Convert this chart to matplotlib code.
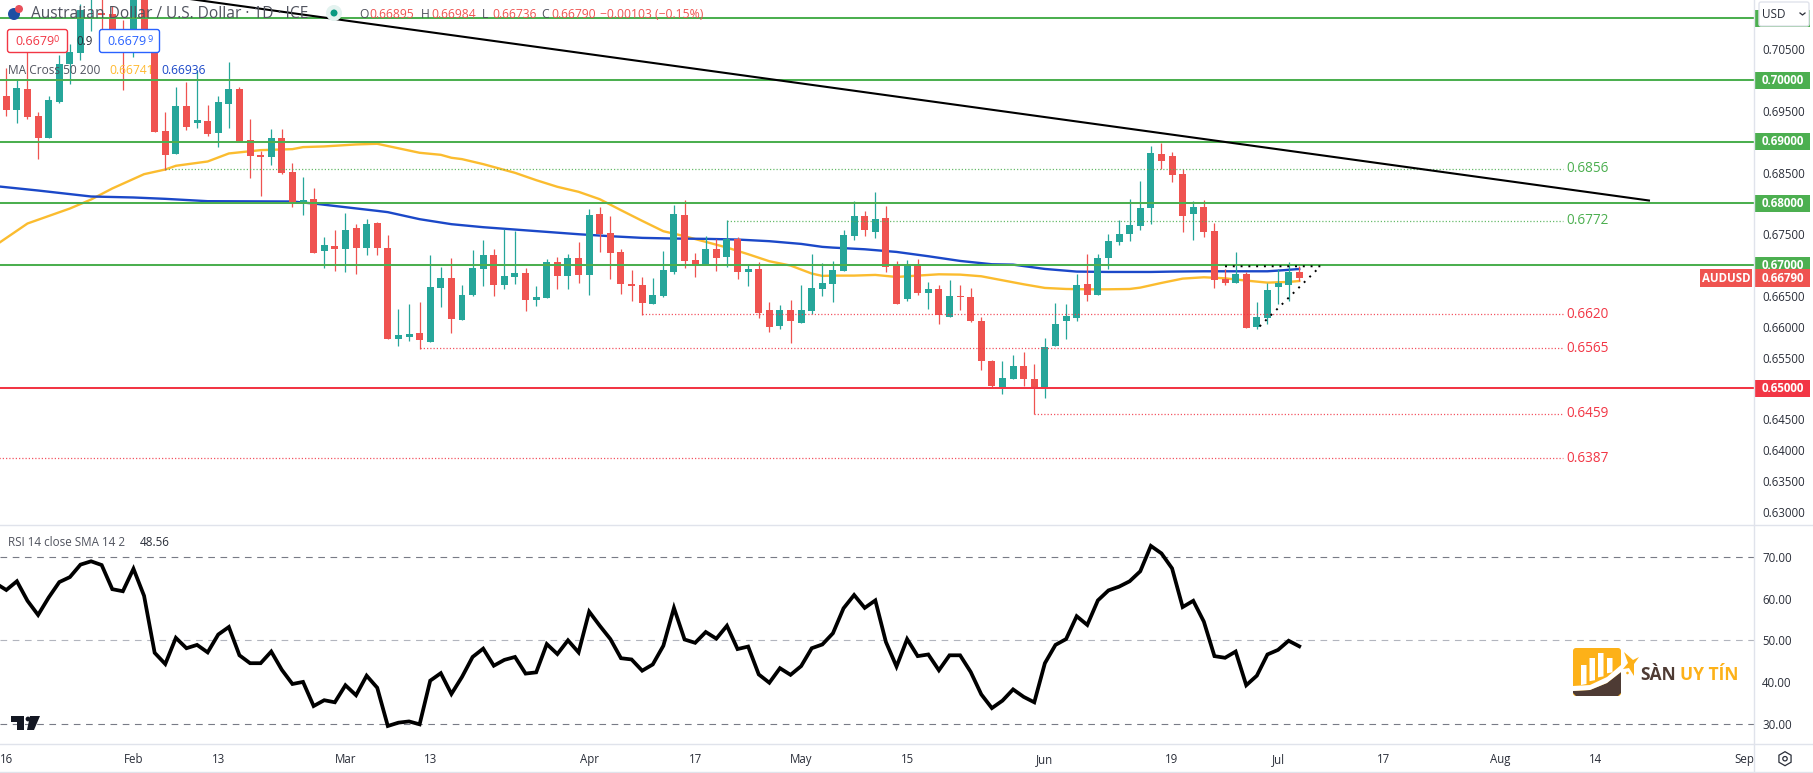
import matplotlib
matplotlib.use('Agg')
import matplotlib.pyplot as plt
import numpy as np
from matplotlib.patches import Rectangle, Polygon, FancyBboxPatch, Circle, RegularPolygon

plt.rcParams['font.family'] = ['Open Sans', 'DejaVu Sans']

W, H = 1813, 773

# daily candles, Jan 16 onwards
opens = [.69741, .69513, .69854, .69416, .69059, .69643, .70260, .70444, .71350, .71083,
         .71072, .70801, .70758, .71500, .70650, .69172, .68799, .69578, .69302, .69335,
         .69140, .69611, .69854, .69026, .68783, .68750, .69059, .68507, .67983, .68069,
         .67224, .67306, .67257, .67598, .67273, .67679, .67273, .65796, .65828, .65893,
         .65747, .66624, .66786, .66104, .66510, .66932, .67160, .66673, .66802, .66867,
         .66429, .66462, .67046, .66819, .67111, .66835, .67825, .67517, .67208, .66689,
         .66673, .66364, .66494, .66884, .67809, .67078, .66997, .67257, .67127, .67419,
         .66884, .66932, .66267, .66007, .66267, .66056, .66251, .66608, .66688, .66899,
         .67467, .67792, .67532, .67759, .67013, .66445, .66997, .66542, .66607, .66152,
         .66493, .66477, .66088, .65438, .65016, .65146, .65357, .65146, .65000, .65682,
         .66088, .66136, .66688, .66510, .67110, .67370, .67500, .67630, .67922, .68798,
         .68766, .68474, .67824, .67938, .67548, .66769, .66704, .66850, .65990, .66136,
         .66640, .66672, .66895]
highs = [.70190, .70000, .70449, .69481, .69741, .70406, .70585, .71234, .71800, .71500,
         .71200, .70974, .71600, .71700, .70731, .69481, .69881, .69968, .70163, .69595,
         .69741, .70293, .69887, .69367, .68848, .69205, .69205, .68653, .68426, .68247,
         .67452, .67565, .67841, .67663, .67744, .67695, .67484, .66283, .66364, .66397,
         .67160, .66965, .67111, .66673, .67241, .67403, .67257, .67582, .67549, .66949,
         .66656, .67095, .67127, .67176, .67371, .67906, .67939, .67793, .67257, .66916,
         .66802, .66786, .67224, .67971, .68052, .67192, .67468, .67419, .67728, .67452,
         .66997, .67046, .66397, .66348, .66429, .66673, .67176, .67030, .67061, .67565,
         .68035, .67873, .68182, .67954, .67061, .67078, .67094, .66721, .66672, .66753,
         .66672, .66623, .66152, .65454, .65438, .65536, .65584, .65389, .65812, .66380,
         .66363, .66850, .67175, .67175, .67500, .67727, .68068, .68360, .68928, .68984,
         .68831, .68555, .68035, .68052, .67678, .66932, .67208, .66883, .66396, .66704,
         .66932, .67045, .66984]
lows = [.69416, .69308, .69373, .68718, .69059, .69627, .69935, .70325, .70801, .70823,
        .70758, .69838, .70379, .70596, .69156, .68539, .68799, .69189, .69221, .69091,
        .68913, .69221, .68994, .68409, .68117, .68621, .68474, .67939, .67809, .67192,
        .66960, .66900, .66880, .66850, .67160, .67160, .65796, .65682, .65764, .65634,
        .65747, .66315, .65893, .66104, .66494, .66656, .66494, .66608, .66689, .66251,
        .66332, .66462, .66608, .66608, .66705, .66510, .67208, .66770, .66526, .66413,
        .66186, .66364, .66478, .66851, .66949, .66802, .66997, .66900, .66965, .66770,
        .66656, .66137, .65910, .65958, .65731, .66056, .66202, .66494, .66396, .66899,
        .67402, .67467, .67435, .66883, .66363, .66412, .66510, .66282, .66039, .66152,
        .66266, .66071, .65292, .65000, .64903, .65146, .65032, .64578, .64838, .65682,
        .65795, .66088, .66412, .66510, .66932, .67321, .67386, .67565, .67662, .68555,
        .68344, .67532, .67402, .67451, .66623, .66672, .66704, .65974, .65958, .66039,
        .66363, .66412, .66736]
closes = [.69513, .69870, .69400, .69059, .69676, .70260, .70455, .71137, .71600, .71061,
          .70823, .70596, .71400, .70650, .69156, .68783, .69578, .69237, .69351, .69124,
          .69643, .69854, .68994, .68767, .68750, .69059, .68491, .67983, .68052, .67192,
          .67322, .67257, .67565, .67273, .67663, .67273, .65796, .65861, .65877, .65780,
          .66640, .66786, .66121, .66510, .66949, .67160, .66673, .66819, .66867, .66429,
          .66478, .67046, .66819, .67111, .66835, .67809, .67500, .67192, .66689, .66656,
          .66380, .66510, .66916, .67825, .67062, .66992, .67257, .67111, .67430, .66884,
          .66932, .66218, .65991, .66267, .66088, .66267, .66624, .66705, .66915, .67484,
          .67792, .67565, .67743, .66964, .66363, .66997, .66542, .66607, .66185, .66493,
          .66482, .66088, .65438, .65032, .65162, .65357, .65146, .65000, .65665, .66039,
          .66169, .66672, .66510, .67110, .67386, .67500, .67646, .67922, .68815, .68685,
          .68458, .67792, .67938, .67532, .66753, .66704, .66850, .65974, .66152, .66591,
          .66704, .66883, .66790]

# moving averages, read at the bends
ma50_x = [-1, 2, 6, 8, 10, 13, 15, 16, 19, 21, 24, 27, 28, 30, 33, 35, 39, 41, 42, 43, 45,
          48, 50, 52, 54, 56, 58, 60, 62, 64, 66, 68, 70, 72, 74, 76, 77, 78, 80, 82, 84,
          86, 88, 90, 92, 94, 96, 98, 100, 102, 104, 106, 107, 109, 111, 113, 115, 117,
          119, 121, 122]
ma50_y = [.67322, .67674, .67917, .68063, .68242, .68474, .68550, .68610, .68680, .68810,
          .68864, .68880, .68913, .68924, .68956, .68967, .68821, .68788, .68740, .68718,
          .68637, .68496, .68377, .68269, .68188, .68068, .67890, .67717, .67549, .67468,
          .67376, .67284, .67176, .67062, .66992, .66862, .66824, .66829, .66829, .66840,
          .66807, .66829, .66850, .66845, .66818, .66753, .66688, .66629, .66612, .66607,
          .66607, .66612, .66634, .66710, .66780, .66802, .66785, .66748, .66715, .66726,
          .66741]
ma200_x = [-1, 3, 8, 12, 15, 19, 27, 29, 35, 36, 39, 42, 45, 48, 51, 54, 57, 60, 63, 66,
           69, 72, 75, 77, 78, 81, 84, 87, 90, 93, 95, 98, 101, 104, 108, 110, 113, 116,
           119, 120, 122]
ma200_y = [.68280, .68209, .68112, .68096, .68074, .68036, .68031, .67998, .67879, .67858,
           .67744, .67663, .67614, .67576, .67538, .67500, .67468, .67441, .67430, .67425,
           .67414, .67387, .67343, .67295, .67283, .67256, .67213, .67143, .67067, .67013,
           .67007, .66937, .66894, .66888, .66888, .66894, .66899, .66899, .66899, .66910,
           .66936]

# rsi from the candle before the first one
rsi_values = [63.7, 62.1, 64.2, 59.5, 56.1, 60.3, 64.0, 65.2, 68.2, 69.0, 68.1, 62.3, 61.8,
              67.2, 60.7, 47.0, 44.3, 50.6, 48.1, 48.9, 47.1, 51.4, 53.2, 46.4, 44.5, 44.5,
              47.3, 42.9, 39.5, 40.0, 34.2, 35.6, 35.1, 39.2, 36.8, 41.5, 38.6, 29.4, 30.2,
              30.5, 29.8, 40.3, 42.1, 37.1, 41.2, 46.0, 48.0, 43.9, 45.3, 46.0, 42.0, 42.3,
              49.1, 46.7, 50.0, 47.1, 56.9, 53.5, 50.3, 45.7, 45.4, 42.7, 44.2, 48.7, 57.8,
              50.2, 49.4, 52.0, 50.4, 53.5, 47.9, 48.5, 41.8, 39.8, 43.3, 41.7, 43.8, 48.1,
              49.0, 51.7, 57.7, 60.9, 57.8, 59.6, 49.6, 43.7, 50.3, 46.2, 46.6, 42.8, 46.4,
              46.4, 42.4, 37.0, 33.7, 35.5, 38.2, 36.4, 35.1, 44.5, 48.9, 50.3, 55.8, 53.7,
              59.6, 62.0, 62.9, 64.2, 66.6, 72.7, 70.9, 67.3, 58.0, 59.5, 54.5, 46.2, 45.8,
              47.3, 39.2, 41.5, 46.6, 47.7, 49.9, 48.56]

green_levels = [.71, .70, .69, .68, .67]
red_levels = [.65]
price_ticks = [.705, .695, .685, .675, .665, .66, .655, .645, .64, .635, .63]
rsi_ticks = [70, 60, 50, 40, 30]
# value, first candle
green_dotted = [(.6856, 15), (.6772, 68)]
red_dotted = [(.6620, 60), (.6565, 39), (.6459, 97), (.6387, -1)]
trend_x = [17, 155]
trend_y = [.71323, .68047]
triangle_x = [115, 124, 118]
triangle_y = [.66980, .66980, .65960]
date_pos = [0, 12, 20, 32, 40, 55, 65, 75, 85, 98, 110, 120, 130, 141, 150, 164]
date_labels = ['16', 'Feb', '13', 'Mar', '13', 'Apr', '17', 'May', '15', 'Jun', '19', 'Jul',
               '17', 'Aug', '14', 'Sep']

GREEN = '#4caf50'
RED = '#f23645'
UP = '#26a69a'
DOWN = '#ef5350'
TEXT = '#2a2e39'
GREY = '#50535e'
BORDER = '#e0e3eb'

fig = plt.figure(figsize=(W / 100, H / 100), dpi=100, facecolor='white')

axis_px = 1754.3
ax = fig.add_axes([0, 1 - 524.5 / H, axis_px / W, 524.5 / H])
ax2 = fig.add_axes([0, 1 - 744.3 / H, axis_px / W, (744.3 - 524.7) / H])
xlim = (-0.594, 164.94)
ax.set_xlim(xlim)
ax.set_ylim(.62792, .71299)
ax2.set_xlim(xlim)
ax2.set_ylim(25.0, 77.8)

x = np.arange(len(opens))
o = np.array(opens)
c = np.array(closes)
colors = [UP if cl >= op else DOWN for op, cl in zip(o, c)]

ax.plot(ma50_x, ma50_y, color='#fbbc2f', lw=1.7, zorder=2)
ax.plot(ma200_x, ma200_y, color='#1b48c8', lw=1.7, zorder=2)
ax.vlines(x, lows, highs, colors=colors, lw=0.9, zorder=3)
ax.bar(x, np.maximum(np.abs(c - o), .00006), bottom=np.minimum(o, c), width=0.66, color=colors, zorder=4)

for lvl in green_levels:
    ax.axhline(lvl, color=GREEN, lw=1.45, zorder=5)
for lvl in red_levels:
    ax.axhline(lvl, color=RED, lw=1.45, zorder=5)

ax.plot(trend_x, trend_y, color='black', lw=1.5, zorder=6)
ax.plot(triangle_x, triangle_y, color='black', lw=1.4, ls=(0, (1, 3)), zorder=6)

dot_end = 146.9
for vals, col in ((green_dotted, GREEN), (red_dotted, RED)):
    for lvl, start in vals:
        ax.plot([start, dot_end], [lvl, lvl], color=col, lw=0.9, ls=(0, (1, 1.6)), alpha=0.85, zorder=5)
        ax.text(147.2, lvl, '%.4f' % lvl, color=col, fontsize=9.8, va='center', ha='left', zorder=7)

ax.yaxis.tick_right()
ax.set_yticks(price_ticks)
ax.set_yticklabels(['%.5f' % t for t in price_ticks], fontsize=8.3, color=TEXT)
ax.tick_params(axis='y', length=0, pad=5.6)
ax.set_xticks([])

# price badges on the axis
trans = ax.get_yaxis_transform()
badge_w = 56 / axis_px
badge_h = 17 / 6160
for lvl, col in [(v, GREEN) for v in green_levels] + [(v, RED) for v in red_levels] + [(.6679, DOWN)]:
    ax.add_patch(Rectangle((1, lvl - badge_h / 2), badge_w, badge_h, transform=trans, fc=col, ec='none',
                           clip_on=False, zorder=8))
    if lvl != .71:
        ax.text(1 + 28.5 / axis_px, lvl, '%.5f' % lvl, transform=trans, color='white', fontsize=8.3,
                fontweight='bold', va='center', ha='center', clip_on=False, zorder=9)
ax.add_patch(Rectangle(((1700) / axis_px, .6679 - badge_h / 2), 52 / axis_px, badge_h, transform=trans,
                       fc=DOWN, ec='none', zorder=8))
ax.text(1726 / axis_px, .6679, 'AUDUSD', transform=trans, color='white', fontsize=8.3, fontweight='bold',
        va='center', ha='center', zorder=9)

rsi_x = np.arange(len(rsi_values)) - 1
ax2.plot(rsi_x, rsi_values, color='black', lw=2.7, solid_joinstyle='miter', zorder=3)
ax2.axhline(70, color='#787b86', lw=0.8, ls=(0, (6, 5)), zorder=1)
ax2.axhline(50, color='#b2b5be', lw=0.8, ls=(0, (6, 5)), zorder=1)
ax2.axhline(30, color='#787b86', lw=0.8, ls=(0, (6, 5)), zorder=1)
ax2.yaxis.tick_right()
ax2.set_yticks(rsi_ticks)
ax2.set_yticklabels(['%.2f' % t for t in rsi_ticks], fontsize=8.3, color=TEXT)
ax2.tick_params(axis='y', length=0, pad=5.6)
ax2.set_xticks(date_pos)
ax2.set_xticklabels(date_labels, fontsize=8.3, color=TEXT)
ax2.tick_params(axis='x', length=0, pad=6.5)

for a in (ax, ax2):
    for s in a.spines.values():
        s.set_visible(False)
    a.patch.set_alpha(0)

# overlay in picture pixels for the widgets round the chart
ov = fig.add_axes([0, 0, 1, 1], zorder=20)
ov.set_xlim(0, W)
ov.set_ylim(H, 0)
ov.axis('off')
ov.patch.set_alpha(0)

for yy in (524.7, 744.3, 772):
    ov.plot([0, W], [yy, yy], color=BORDER, lw=1)
ov.plot([axis_px, axis_px], [0, 772], color=BORDER, lw=1)

# header
ov.add_patch(Circle((14, 14), 6, fc='#1f4fa3', ec='none'))
ov.add_patch(Circle((19, 9), 4, fc='#e8505b', ec='none'))
ov.text(31, 14, 'Australian Dollar / U.S. Dollar · 1D · ICE', fontsize=11.2, color=GREY, va='center')
ov.add_patch(Circle((334, 13), 8, fc='#e4f3f0', ec='none'))
ov.add_patch(Circle((334, 13), 3.5, fc='#089981', ec='none'))
for xp, lab, val in [(359, 'O', '0.66895'), (421, 'H', '0.66984'), (482, 'L', '0.66736'), (541, 'C', '0.66790')]:
    ov.text(xp, 14, lab, fontsize=8.7, color=GREY, va='center')
    ov.text(xp + 10, 14, val, fontsize=8.7, color=DOWN, va='center')
ov.text(600, 14, '−0.00103 (−0.15%)', fontsize=8.7, color=DOWN, va='center')

# sell / buy chips
for x0, col in [(7.5, RED), (99.5, '#2962ff')]:
    ov.add_patch(FancyBboxPatch((x0, 29.5), 60, 23, boxstyle='round,pad=0,rounding_size=2.5', fc='white',
                                ec=col, lw=1))
    ov.text(x0 + 8, 41.5, '0.6679', fontsize=9, color=col, va='center')
ov.text(54, 39, '0', fontsize=6.5, color=RED, va='center')
ov.text(147, 39, '9', fontsize=6.5, color='#2962ff', va='center')
ov.text(76, 41.5, '0.9', fontsize=8.3, color=TEXT, va='center')
ov.text(8, 70, 'MA Cross 50 200', fontsize=8.6, color=GREY, va='center')
ov.text(109, 70, '0.66741', fontsize=8.7, color='#ffb92e', va='center')
ov.text(161, 70, '0.66936', fontsize=8.7, color='#1b48c8', va='center')
ov.text(8, 542, 'RSI 14 close SMA 14 2', fontsize=8.4, color=GREY, va='center')
ov.text(140, 542, '48.56', fontsize=8.4, color=TEXT, va='center')

# USD button
ov.add_patch(FancyBboxPatch((1759, 2), 50, 24, boxstyle='round,pad=0,rounding_size=2', fc='white', ec=BORDER, lw=1))
ov.text(1762, 14, 'USD', fontsize=8.5, color=TEXT, va='center')
ov.plot([1800, 1802.5, 1805], [13, 15, 13], color=TEXT, lw=0.9)

# settings icon
ov.add_patch(RegularPolygon((1785, 758.7), 6, radius=7, fc='white', ec=TEXT, lw=0.9))
ov.add_patch(Circle((1785, 758.7), 2.2, fc='white', ec=TEXT, lw=0.9))

# TradingView mark
ov.add_patch(Polygon([(11, 716), (24, 716), (24, 730), (17, 730), (17, 722), (11, 722)], fc='#131722', ec='none'))
ov.add_patch(Circle((28, 719), 2.4, fc='#131722', ec='none'))
ov.add_patch(Polygon([(30, 716), (40, 716), (34, 730), (27, 730)], fc='#131722', ec='none'))

# watermark
ov.add_patch(FancyBboxPatch((1573, 648), 48, 48, boxstyle='round,pad=0,rounding_size=3', fc='#fdb118', ec='none'))
ov.add_patch(Polygon([(1573, 691), (1590, 690), (1607, 683), (1621, 672), (1621, 693), (1618, 696), (1576, 696), (1573, 693)],
                     fc='#4e3b34', ec='none'))
ov.add_patch(Polygon([(1573, 686), (1590, 685), (1607, 677), (1621, 665), (1621, 672), (1607, 683), (1590, 690), (1573, 691)],
                     fc='white', ec='none'))
for bx, by in [(1581, 665), (1589.5, 658), (1598, 653), (1607, 658)]:
    ov.add_patch(Polygon([(bx, by), (bx + 5.5, by), (bx + 5.5, 684 - (bx - 1581) * 0.45), (bx, 685 - (bx - 1581) * 0.45)],
                         fc='white', ec='none'))
ov.add_patch(Polygon([(1624, 652), (1633, 660), (1639, 657), (1634, 664), (1634, 676), (1629, 668), (1623, 669), (1628, 663)],
                     fc='#fdb118', ec='none'))
ov.add_patch(Circle((1627.5, 673), 1.3, fc='#fdb118', ec='none'))
ov.text(1640, 675.5, 'SÀN', fontsize=12.5, fontweight='bold', color='#4e3b34', va='center')
ov.text(1680, 675.5, 'UY TÍN', fontsize=12.5, fontweight='bold', color='#fdb118', va='center')

fig.savefig('out.png', dpi=100, facecolor='white')
